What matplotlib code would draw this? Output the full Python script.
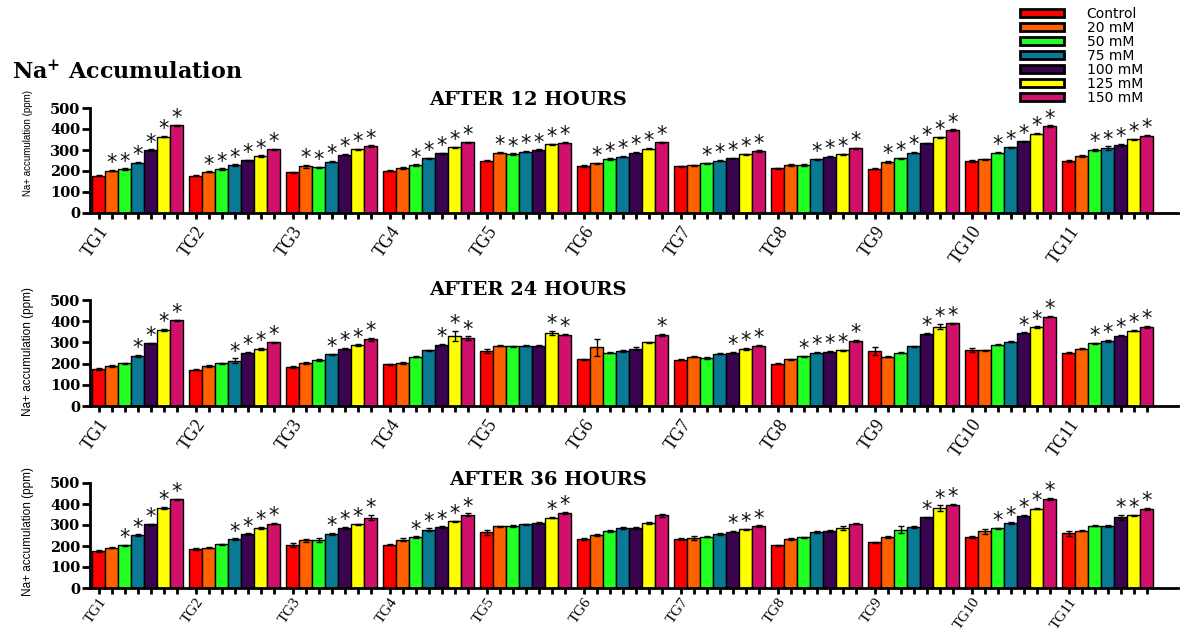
import matplotlib
matplotlib.use('Agg')
import matplotlib.pyplot as plt
import matplotlib.patches as patches
import matplotlib.transforms as mtransforms
import numpy as np

# Data
groups = ['TG1', 'TG2', 'TG3', 'TG4', 'TG5', 'TG6', 'TG7', 'TG8', 'TG9', 'TG10', 'TG11']
series = ['Control', '20 mM', '50 mM', '75 mM', '100 mM', '125 mM', '150 mM']
colors = ['#FF0000', '#FF6000', '#22FF22', '#0A7A94', '#3A0450', '#FFFF00', '#D1106C']

na_12h = [
    [178, 201, 209, 240, 300, 363, 417],
    [178, 196, 209, 228, 251, 272, 303],
    [193, 222, 217, 245, 278, 303, 319],
    [201, 214, 229, 260, 284, 313, 336],
    [249, 287, 281, 292, 300, 327, 335],
    [224, 236, 257, 268, 287, 306, 336],
    [222, 227, 236, 249, 260, 279, 295],
    [213, 229, 229, 255, 268, 279, 308],
    [211, 243, 260, 287, 332, 360, 395],
    [248, 255, 287, 313, 341, 378, 414],
    [248, 271, 300, 308, 325, 351, 368],
]
err_12h = [
    [3, 3, 3, 3, 3, 3, 3],
    [3, 3, 3, 3, 3, 3, 3],
    [3, 8, 3, 3, 3, 4, 3],
    [3, 3, 3, 3, 3, 3, 3],
    [3, 3, 3, 3, 3, 3, 3],
    [3, 3, 3, 3, 3, 3, 3],
    [3, 3, 3, 3, 3, 3, 3],
    [3, 3, 3, 3, 3, 3, 3],
    [3, 6, 3, 3, 3, 3, 3],
    [3, 3, 3, 3, 3, 3, 3],
    [3, 3, 4, 10, 4, 3, 3],
]
sig_12h = ['.******', '.******', '.******', '..*****', '.******', '.******',
           '..*****', '...****', '.******', '..*****', '..*****']

na_24h = [
    [175, 189, 202, 237, 295, 358, 405],
    [172, 189, 202, 213, 251, 268, 300],
    [184, 203, 216, 244, 271, 287, 314],
    [196, 203, 232, 263, 289, 330, 319],
    [260, 285, 281, 285, 285, 345, 336],
    [221, 276, 252, 260, 270, 300, 336],
    [219, 232, 227, 246, 252, 268, 284],
    [200, 221, 235, 251, 257, 262, 307],
    [259, 232, 252, 282, 339, 374, 390],
    [263, 263, 290, 303, 345, 372, 421],
    [252, 271, 295, 306, 331, 355, 374],
]
err_24h = [
    [3, 4, 3, 4, 3, 5, 3],
    [3, 3, 3, 12, 3, 6, 3],
    [4, 5, 4, 3, 3, 4, 8],
    [3, 5, 3, 3, 3, 25, 10],
    [10, 4, 3, 3, 3, 10, 3],
    [3, 40, 3, 6, 8, 3, 4],
    [4, 3, 3, 3, 3, 6, 3],
    [3, 3, 3, 3, 3, 3, 5],
    [20, 3, 3, 3, 5, 12, 3],
    [10, 3, 3, 3, 3, 4, 3],
    [3, 4, 3, 6, 3, 3, 5],
]
sig_24h = ['...****', '...****', '...****', '....***', '.....**', '......*',
           '....***', '..*****', '....***', '....***', '..*****']

na_36h = [
    [176, 192, 203, 252, 303, 381, 422],
    [186, 192, 208, 232, 257, 286, 306],
    [203, 227, 227, 256, 286, 303, 335],
    [206, 230, 243, 278, 290, 317, 349],
    [265, 294, 295, 303, 309, 335, 359],
    [235, 252, 271, 286, 286, 309, 346],
    [232, 240, 244, 256, 268, 279, 295],
    [203, 233, 241, 267, 271, 286, 306],
    [217, 243, 278, 292, 336, 381, 397],
    [243, 271, 284, 309, 344, 378, 424],
    [260, 273, 297, 295, 338, 346, 376],
]
err_36h = [
    [3, 3, 3, 4, 4, 5, 4],
    [4, 3, 3, 4, 3, 4, 3],
    [10, 8, 10, 5, 4, 4, 12],
    [3, 8, 3, 6, 3, 3, 6],
    [12, 3, 3, 4, 5, 4, 5],
    [5, 3, 3, 4, 6, 3, 6],
    [4, 10, 3, 5, 3, 3, 3],
    [3, 5, 4, 6, 3, 10, 3],
    [3, 4, 15, 4, 4, 12, 4],
    [4, 12, 4, 3, 3, 3, 4],
    [10, 3, 3, 3, 12, 3, 5],
]
sig_36h = ['..*****', '...****', '...****', '..*****', '.....**', '.......',
           '....***', '.......', '....***', '..*****', '....***']

panels = [
    ('AFTER 12 HOURS', na_12h, err_12h, sig_12h),
    ('AFTER 24 HOURS', na_24h, err_24h, sig_24h),
    ('AFTER 36 HOURS', na_36h, err_36h, sig_36h),
]

W, H = 1186, 629
fig = plt.figure(figsize=(W / 100, H / 100), dpi=100)
plt.rcParams['mathtext.fontset'] = 'dejavuserif'

# pixel geometry of each panel: (top of 500 line, zero line), title centre, ylabel centre
axis_px = [(108, 213), (300, 406), (483, 588)]
title_px = [(528, 100), (528, 290), (548, 480)]
ylabel_y = [143, 352, 532]
ylabel_size = [7, 8.5, 8.5]
# the bottom panel's group labels run into the lower edge, so they are a bit smaller
xlabel_size = [13, 13, 11]
xlabel_pad = [3, 3, 1]

stride = 7.45
n_series = len(series)

for k, (title, vals, errs, sigs) in enumerate(panels):
    top, zero = axis_px[k]
    ax = fig.add_axes([90 / W, 1 - zero / H, 1088 / W, (zero - top) / H])
    vals = np.array(vals)
    errs = np.array(errs)
    base = np.arange(len(groups)) * stride

    for j in range(n_series):
        ax.bar(base + j, vals[:, j], width=1.0, color=colors[j], edgecolor='black',
               linewidth=1.0, zorder=2)
        ax.errorbar(base + j, vals[:, j], yerr=errs[:, j], fmt='none', ecolor='black',
                    elinewidth=1.0, capsize=2.5, capthick=1.0, zorder=3)

    # significance stars
    for g in range(len(groups)):
        for j in range(n_series):
            if sigs[g][j] == '*':
                ax.annotate('*', (base[g] + j, vals[g, j] + errs[g, j]),
                            xytext=(0, 0.5), textcoords='offset points',
                            ha='center', va='baseline', fontsize=15,
                            family='DejaVu Sans', color='#111111')

    ax.set_xlim(-0.654, 82.9)
    ax.set_ylim(0, 500)
    ax.set_yticks(range(0, 501, 100))
    for lbl in ax.get_yticklabels():
        lbl.set_fontfamily('DejaVu Serif')
        lbl.set_fontweight('bold')
        lbl.set_fontsize(10.5)

    tick_x, tick_lbl = [], []
    for g in range(len(groups)):
        for j in range(n_series):
            tick_x.append(base[g] + j)
            tick_lbl.append(groups[g] if j == 0 else '')
    ax.set_xticks(tick_x)
    ax.set_xticklabels(tick_lbl, rotation=55, ha='right', rotation_mode='anchor',
                       fontfamily='Liberation Serif', fontsize=xlabel_size[k])
    offset = mtransforms.ScaledTranslation(6 / 100, 0, fig.dpi_scale_trans)
    for lbl in ax.get_xticklabels():
        lbl.set_transform(lbl.get_transform() + offset)

    ax.tick_params(axis='x', length=4.5, width=2, pad=xlabel_pad[k], direction='out')
    ax.tick_params(axis='y', length=6, width=2, pad=1, direction='out')
    for side in ['top', 'right']:
        ax.spines[side].set_visible(False)
    for side in ['left', 'bottom']:
        ax.spines[side].set_linewidth(2)

    tx, ty = title_px[k]
    fig.text(tx / W, 1 - ty / H, title, ha='center', va='center',
             fontfamily='DejaVu Serif', fontweight='bold', fontsize=14)
    fig.text(28 / W, 1 - ylabel_y[k] / H, 'Na+ accumulation (ppm)', rotation=90,
             ha='center', va='center', fontfamily='Liberation Sans',
             fontsize=ylabel_size[k])

# main heading
fig.text(12 / W, 1 - 73 / H, r'Na$^{\mathbf{+}}$ Accumulation', ha='left', va='center',
         fontfamily='DejaVu Serif', fontweight='bold', fontsize=16)

# legend
handles = [patches.Patch(facecolor=c, edgecolor='black', linewidth=2) for c in colors]
fig.legend(handles, series, loc='upper left', bbox_to_anchor=(1020 / W, 1 - 7 / H),
           frameon=False, handlelength=3.2, handleheight=0.55,
           labelspacing=0.0, handletextpad=1.6, borderpad=0, borderaxespad=0,
           prop={'family': 'DejaVu Sans', 'size': 10})

fig.savefig('out.png', dpi=100)
